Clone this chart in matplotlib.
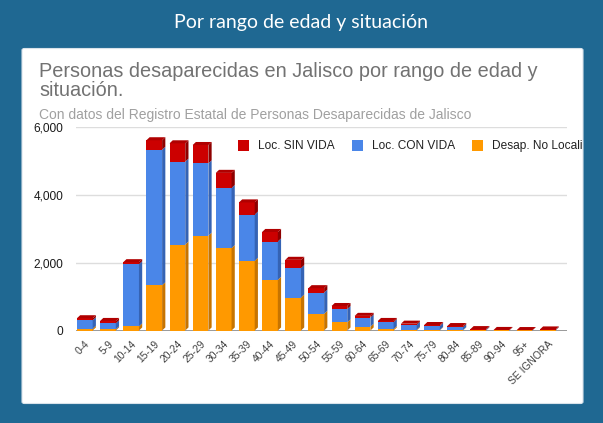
import numpy as np
import matplotlib
matplotlib.use("Agg")
import matplotlib.pyplot as plt
from matplotlib.patches import Polygon, Rectangle, FancyBboxPatch

ages = ["0-4", "5-9", "10-14", "15-19", "20-24", "25-29", "30-34", "35-39",
        "40-44", "45-49", "50-54", "55-59", "60-64", "65-69", "70-74", "75-79",
        "80-84", "85-89", "90-94", "95+", "SE IGNORA"]
desap_no_loc = [50, 30, 120, 1330, 2530, 2790, 2425, 2050, 1490, 970, 490,
                240, 110, 40, 20, 15, 10, 3, 1, 1, 3]
loc_con_vida = [250, 180, 1830, 3990, 2440, 2130, 1770, 1360, 1130, 865, 625,
                390, 270, 200, 150, 115, 85, 20, 4, 3, 10]
loc_sin_vida = [60, 70, 60, 280, 540, 540, 445, 360, 280, 245, 130,
                90, 50, 40, 30, 30, 35, 17, 10, 8, 17]
# last legend entry is cut by the card edge in the original
legend_labels = ["Loc. SIN VIDA", "Loc. CON VIDA", "Desap. No Locali"]
yticks = [0, 2000, 4000, 6000]

W, H = 603, 423
BG = "#1f6892"
ORANGE, BLUE, RED = "#ff9900", "#4a86e8", "#cc0000"
SIDE = {ORANGE: "#c77400", BLUE: "#3563b4", RED: "#8e0000"}
TOP = {ORANGE: "#ffb13b", BLUE: "#6a9cf0", RED: "#b00000"}


def fx(px):
    return px / W


def fy(py):
    return 1 - py / H


fig = plt.figure(figsize=(W / 100, H / 100), dpi=100, facecolor=BG)

# white card
card = FancyBboxPatch((fx(22), fy(403.5)), fx(583) - fx(22), fy(48.5) - fy(403.5),
                      boxstyle="round,pad=0,rounding_size=0.004",
                      transform=fig.transFigure, facecolor="white",
                      edgecolor="#d8e2ea", lw=0.8, zorder=-5)
fig.patches.append(card)

fig.text(0.5, fy(28), "Por rango de edad y situación", color="white",
         family="Lato", fontsize=14, ha="center", va="baseline")
fig.text(fx(39), fy(76.7), "Personas desaparecidas en Jalisco por rango de edad y",
         color="#727272", family="Liberation Sans", fontsize=14.3, va="baseline")
fig.text(fx(39), fy(96), "situación.",
         color="#727272", family="Liberation Sans", fontsize=14.3, va="baseline")
fig.text(fx(39), fy(119.3),
         "Con datos del Registro Estatal de Personas Desaparecidas de Jalisco",
         color="#a0a0a0", family="Liberation Sans", fontsize=10, va="baseline")

ax = fig.add_axes([fx(76), fy(330.5), fx(566.7) - fx(76), fy(126.7) - fy(330.5)])
ax.set_zorder(1)
ax.set_facecolor("none")
x = np.arange(len(ages))
bw, dx, dy = 0.68, 0.14, 90

bottoms = np.zeros(len(ages))
for vals, col in [(desap_no_loc, ORANGE), (loc_con_vida, BLUE), (loc_sin_vida, RED)]:
    vals = np.array(vals, dtype=float)
    ax.bar(x, vals, width=bw, bottom=bottoms, color=col, zorder=3, linewidth=0)
    for xi, b, v in zip(x, bottoms, vals):
        xr = xi + bw / 2
        ax.add_patch(Polygon([(xr, b), (xr + dx, b + dy), (xr + dx, b + v + dy), (xr, b + v)],
                             closed=True, facecolor=SIDE[col], lw=0, zorder=3))
    bottoms = bottoms + vals

for xi, t in zip(x, bottoms):
    xl, xr = xi - bw / 2, xi + bw / 2
    ax.add_patch(Polygon([(xl, t), (xl + dx, t + dy), (xr + dx, t + dy), (xr, t)],
                         closed=True, facecolor=TOP[RED], lw=0, zorder=3))

ax.set_xlim(-0.38, 20.82)
ax.set_ylim(0, 6000)
ax.set_yticks(yticks)
ax.set_yticklabels([f"{v:,}" for v in yticks], family="Liberation Sans",
                   fontsize=8.6, color="#1a1a1a")
ax.grid(axis="y", color="#dddddd", lw=1, zorder=0)
ax.axhline(0, color="#8a8a8a", lw=1.2, zorder=2)
ax.set_xticks(x)
ax.set_xticklabels(ages, rotation=45, ha="right", rotation_mode="anchor",
                   family="Liberation Sans", fontsize=7.4, color="#404040")
ax.tick_params(axis="both", length=0)
ax.tick_params(axis="y", pad=9)
ax.tick_params(axis="x", pad=6)
for s in ax.spines.values():
    s.set_visible(False)

# legend across the top of the plot area
for (sq_x, tx_x), lab, col in zip([(238, 258), (351.5, 371.5), (471.5, 491.5)],
                                  legend_labels, [RED, BLUE, ORANGE]):
    fig.patches.append(Rectangle((fx(sq_x), fy(151.5)), fx(11), fy(140) - fy(151.5),
                                 transform=fig.transFigure, facecolor=col, lw=0))
    fig.text(fx(tx_x), fy(146), lab, family="Liberation Sans", fontsize=8.6,
             color="#222222", va="center")

fig.savefig("out.png", dpi=100, facecolor=BG)
